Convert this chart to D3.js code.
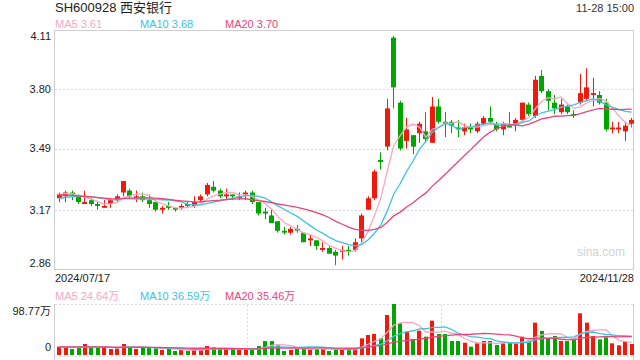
<!DOCTYPE html>
<meta charset="utf-8">
<script src="https://d3js.org/d3.v7.min.js"></script>
<style>
  body { margin: 0; background: #fff; }
  text { font-family: "Liberation Sans", Arial, "Noto Sans CJK SC", sans-serif; }
</style>
<body>
<div id="chart"></div>
<script>
// ---- data ----
const title = "SH600928 西安银行";
const stamp = "11-28 15:00";
const dateLabels = ["2024/07/17", "2024/11/28"];
const priceTicks = [4.11, 3.80, 3.49, 3.17, 2.86];
const volTicks = ["98.77万", "0"];
const maDays = [5, 10, 20];

const opens = [3.23,3.24,3.26,3.24,3.20,3.22,3.20,3.18,3.20,3.22, 3.26,3.27,3.23,3.24,3.22,3.21,3.17,3.19,3.18,3.18,
  3.20,3.19,3.22,3.25,3.29,3.27,3.24,3.25,3.23,3.25, 3.26,3.21,3.16,3.14,3.11,3.06,3.05,3.07,3.05,3.01,
  3.01,2.96,2.97,2.95,2.95,2.96,2.96,3.02,3.17,3.23, 3.43,3.50,4.07,3.73,3.53,3.56,3.57,3.58,3.52,3.71,
  3.63,3.63,3.60,3.58,3.60,3.58,3.62,3.65,3.62,3.59, 3.61,3.62,3.64,3.72,3.66,3.87,3.79,3.73,3.68,3.71,
  3.67,3.73,3.75,3.77,3.77,3.73,3.59,3.59,3.58,3.62];
const highs = [3.26,3.27,3.27,3.25,3.27,3.23,3.21,3.22,3.23,3.25, 3.32,3.28,3.27,3.26,3.25,3.21,3.19,3.21,3.18,3.20,
  3.21,3.24,3.25,3.31,3.32,3.28,3.28,3.25,3.26,3.27, 3.27,3.21,3.18,3.17,3.11,3.08,3.08,3.09,3.05,3.04,
  3.01,3.00,2.98,2.96,2.98,2.98,3.02,3.15,3.24,3.38, 3.47,3.75,4.08,3.74,3.65,3.56,3.63,3.68,3.76,3.75,
  3.68,3.64,3.64,3.62,3.62,3.63,3.66,3.71,3.63,3.63, 3.68,3.65,3.73,3.73,3.87,3.90,3.80,3.77,3.75,3.72,
  3.69,3.88,3.91,3.86,3.79,3.75,3.63,3.63,3.63,3.65];
const lows = [3.21,3.21,3.22,3.20,3.20,3.19,3.17,3.18,3.18,3.21, 3.24,3.23,3.21,3.21,3.18,3.16,3.15,3.17,3.16,3.17,
  3.18,3.18,3.21,3.24,3.26,3.23,3.22,3.22,3.22,3.22, 3.20,3.14,3.12,3.10,3.05,3.04,3.04,3.05,3.00,2.98,
  2.96,2.95,2.94,2.88,2.91,2.93,2.95,3.00,3.17,3.22, 3.38,3.48,3.70,3.48,3.49,3.46,3.52,3.52,3.52,3.62,
  3.55,3.57,3.55,3.56,3.57,3.57,3.61,3.62,3.58,3.56, 3.60,3.58,3.63,3.66,3.65,3.78,3.69,3.67,3.67,3.67,
  3.65,3.72,3.74,3.71,3.72,3.58,3.57,3.57,3.53,3.60];
const closes = [3.25,3.26,3.25,3.21,3.21,3.20,3.19,3.19,3.22,3.24, 3.32,3.24,3.24,3.22,3.20,3.17,3.18,3.18,3.17,3.19,
  3.19,3.21,3.24,3.30,3.27,3.24,3.25,3.24,3.24,3.26, 3.21,3.15,3.15,3.10,3.06,3.05,3.07,3.06,3.00,3.02,
  2.98,2.97,2.94,2.93,2.96,2.95,3.00,3.14,3.23,3.37, 3.42,3.70,3.81,3.49,3.59,3.50,3.62,3.54,3.71,3.63,
  3.62,3.61,3.59,3.60,3.59,3.62,3.65,3.63,3.59,3.62, 3.60,3.64,3.73,3.67,3.85,3.79,3.74,3.70,3.72,3.68,
  3.66,3.78,3.81,3.78,3.73,3.59,3.60,3.60,3.61,3.64];
// volume in 万
const volumes = [16.1,14.2,11.6,14.2,21.3,14.2,14.2,14.2,11.6,12.9, 21.3,14.2,11.6,14.2,14.2,14.2,9.7,11.6,7.7,9.7,
  7.7,11.0,11.0,17.4,14.8,11.6,11.6,11.6,9.7,9.7, 11.0,17.4,27.0,27.0,18.7,7.7,9.7,11.6,14.2,11.6,
  11.6,11.6,7.7,11.6,11.6,9.7,11.6,32.3,38.7,40.7, 32.3,77.5,98.77,61.3,45.2,31.0,47.1,35.5,66.5,40.7,
  40.7,27.1,27.1,23.9,16.1,22.6,27.1,27.1,19.4,22.6, 24.5,22.6,35.5,28.1,62.6,46.7,32.3,36.8,27.1,27.1,
  32.3,80.7,62.6,36.8,30.3,34.2,22.6,18.7,26.4,21.3];
// sessions before 07/17, only used so the moving averages start at the left edge
const prevCloses = [3.27,3.28,3.26,3.25,3.27,3.26,3.25,3.27,3.26,3.27,3.22,3.21,3.20,3.21,3.21,3.24,3.25,3.26,3.25];
const prevVolumes = [17.5,15.2,14.8,19.0,16.3,13.9,15.6,18.2,16.0,14.4,15.1,17.3,13.8,16.6,15.0,17.9,14.1,16.4,15.3];

// ---- layout ----
const W = 640, H = 360;
const left = 54, right = 634;
const pTop = 30, pBot = 269;
const vTop = 304, vBot = 355;
const red = "#f0190c", green = "#00a600";
const maColor = ["#f8a5c4", "#3dc3de", "#e8457c"];
const gridColor = "#dcdcdc", borderColor = "#cfcfcf";

const n = closes.length;
const svg = d3.select("#chart").append("svg").attr("width", W).attr("height", H);

const x = d3.scaleBand().domain(d3.range(n)).range([56, 635]);
const cx = i => x(i) + x.bandwidth() / 2;
const y = d3.scaleLinear().domain([d3.min(priceTicks), d3.max(priceTicks)]).range([pBot, pTop]);
const yv = d3.scaleLinear().domain([0, d3.max(volumes)]).range([vBot, vTop]);

function movingAvg(prev, vals, k) {
  const all = prev.concat(vals), off = prev.length;
  return vals.map((v, i) => d3.mean(all.slice(off + i - k + 1, off + i + 1)));
}
const priceMA = maDays.map(k => movingAvg(prevCloses, closes, k));
const volMA = maDays.map(k => movingAvg(prevVolumes, volumes, k));

// ---- header ----
svg.append("text").attr("x", 55).attr("y", 12).style("font-size", "13px").attr("fill", "#222").text(title);
svg.append("text").attr("x", right).attr("y", 12).attr("text-anchor", "end").style("font-size", "11px").attr("fill", "#333").text(stamp);

const legX = [55, 140, 225];
maDays.forEach((k, j) => {
  svg.append("text").attr("x", legX[j]).attr("y", 28).style("font-size", "11px").attr("fill", maColor[j])
    .text("MA" + k + " " + priceMA[j][n - 1].toFixed(2));
  svg.append("text").attr("x", legX[j]).attr("y", 300).style("font-size", "11px").attr("fill", maColor[j])
    .text("MA" + k + " " + volMA[j][n - 1].toFixed(2) + "万");
});

// ---- price panel ----
svg.append("g").selectAll("line")
  .data(priceTicks.slice(1, -1))
  .join("line")
    .attr("x1", left + 1).attr("x2", right - 1)
    .attr("y1", d => Math.round(y(d)) + 0.5).attr("y2", d => Math.round(y(d)) + 0.5)
    .attr("stroke", gridColor).style("stroke-dasharray", "2,2");

svg.append("rect").attr("x", left + 0.5).attr("y", pTop + 0.5)
  .attr("width", right - left - 1).attr("height", pBot - pTop)
  .attr("fill", "none").attr("stroke", borderColor);

svg.append("g").selectAll("text")
  .data(priceTicks)
  .join("text")
    .attr("x", 51)
    .attr("y", (d, i) => y(d) + (i === 0 ? 6 : i === priceTicks.length - 1 ? -6 : 0))
    .attr("dy", "0.35em").attr("text-anchor", "end")
    .style("font-size", "11px").attr("fill", "#222")
    .text(d => d.toFixed(2));

svg.append("text").attr("x", 625).attr("y", 256).attr("text-anchor", "end")
  .style("font-size", "12px").attr("fill", "#d2d2d2").text("sina.com");

const idx = d3.range(n);
const candles = svg.append("g");
candles.selectAll("line")
  .data(idx)
  .join("line")
    .attr("x1", i => Math.round(cx(i) - 2.5) + 2.5).attr("x2", i => Math.round(cx(i) - 2.5) + 2.5)
    .attr("y1", i => y(highs[i])).attr("y2", i => y(lows[i]))
    .attr("stroke", i => closes[i] >= opens[i] ? red : green);
candles.selectAll("rect")
  .data(idx)
  .join("rect")
    .attr("x", i => Math.round(cx(i) - 2.5))
    .attr("width", 5)
    .attr("y", i => y(Math.max(opens[i], closes[i])))
    .attr("height", i => Math.max(1, y(Math.min(opens[i], closes[i])) - y(Math.max(opens[i], closes[i]))))
    .attr("fill", i => closes[i] >= opens[i] ? red : green);

const lineP = d3.line().x((d, i) => cx(i)).y(d => y(d));
svg.append("g").selectAll("path")
  .data(priceMA)
  .join("path")
    .attr("d", lineP).attr("fill", "none")
    .attr("stroke", (d, j) => maColor[j]).attr("stroke-width", 1.3);

svg.append("text").attr("x", 55).attr("y", 282).style("font-size", "11px").attr("fill", "#222").text(dateLabels[0]);
svg.append("text").attr("x", right).attr("y", 282).attr("text-anchor", "end").style("font-size", "11px").attr("fill", "#222").text(dateLabels[1]);

// ---- volume panel ----
const vg = svg.append("g");
vg.append("line").attr("x1", left + 1).attr("x2", right - 1).attr("y1", vTop + 0.5).attr("y2", vTop + 0.5)
  .attr("stroke", gridColor).style("stroke-dasharray", "2,2");
vg.append("line").attr("x1", left + 1).attr("x2", right - 1).attr("y1", vBot + 1.5).attr("y2", vBot + 1.5)
  .attr("stroke", gridColor).style("stroke-dasharray", "2,2");
vg.selectAll(".vgrid")
  .data([1, 2])
  .join("line")
    .attr("class", "vgrid")
    .attr("x1", d => Math.round(left + (right - left) * d / 3) + 0.5)
    .attr("x2", d => Math.round(left + (right - left) * d / 3) + 0.5)
    .attr("y1", vTop + 1).attr("y2", vBot + 1)
    .attr("stroke", gridColor).style("stroke-dasharray", "2,2");
vg.selectAll(".vborder")
  .data([left + 0.5, right - 0.5])
  .join("line")
    .attr("class", "vborder")
    .attr("x1", d => d).attr("x2", d => d)
    .attr("y1", vTop).attr("y2", H)
    .attr("stroke", borderColor);

vg.selectAll("rect")
  .data(idx)
  .join("rect")
    .attr("x", i => Math.round(cx(i) - 2))
    .attr("width", 4)
    .attr("y", i => yv(volumes[i]))
    .attr("height", i => vBot - yv(volumes[i]))
    .attr("fill", i => closes[i] >= opens[i] ? red : green);

const lineV = d3.line().x((d, i) => cx(i)).y(d => yv(d));
vg.selectAll("path")
  .data(volMA)
  .join("path")
    .attr("d", lineV).attr("fill", "none")
    .attr("stroke", (d, j) => maColor[j]).attr("stroke-width", 1.3);

svg.append("g").selectAll("text")
  .data(volTicks)
  .join("text")
    .attr("x", 51).attr("y", (d, i) => i === 0 ? 315 : 351)
    .attr("text-anchor", "end").style("font-size", "11px").attr("fill", "#222")
    .text(d => d);
</script>
</body>
